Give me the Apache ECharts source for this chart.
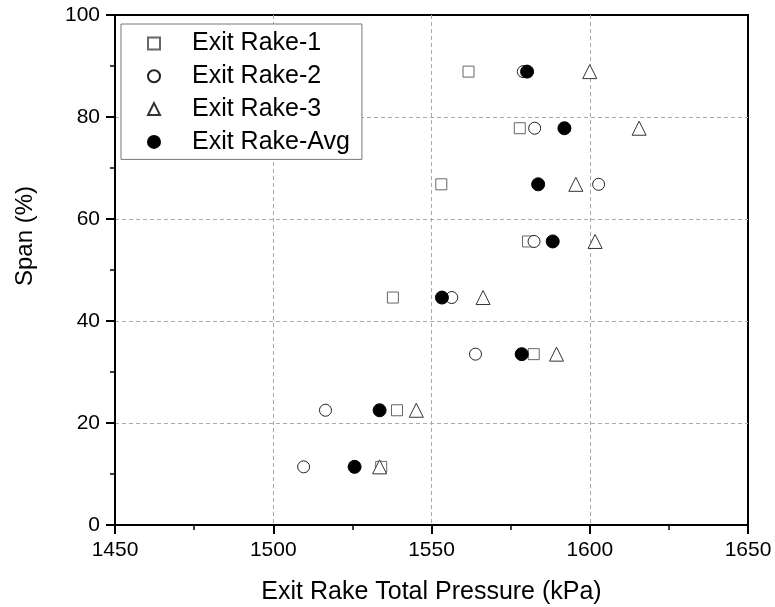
<!DOCTYPE html>
<html>
<head>
<meta charset="utf-8">
<script src="https://cdn.jsdelivr.net/npm/echarts@6/dist/echarts.min.js"></script>
<style>
  html, body { margin: 0; padding: 0; background: #fff; }
  #graph { width: 775px; height: 607px; }
</style>
</head>
<body>
<div id="graph"></div>
<script>
"use strict"

// span positions (%) shared by every rake
const spans = [11.4, 22.5, 33.5, 44.6, 55.6, 66.8, 77.8, 88.9];
// exit rake total pressure (kPa)
const rake1 = [1534.1, 1539.1, 1582.3, 1537.8, 1580.5, 1553.1, 1577.9, 1561.7];
const rake2 = [1509.6, 1516.5, 1563.9, 1556.4, 1582.4, 1602.8, 1582.6, 1579.0];
const rake3 = [1533.6, 1545.2, 1589.5, 1566.3, 1601.7, 1595.6, 1615.6, 1600.0];
const rakeAvg = [1525.7, 1533.6, 1578.5, 1553.3, 1588.3, 1583.7, 1592.0, 1580.2];
const seriesNames = ["Exit Rake-1", "Exit Rake-2", "Exit Rake-3", "Exit Rake-Avg"];
const xTicks = [1450, 1500, 1550, 1600, 1650];
const yTicks = [0, 20, 40, 60, 80, 100];

const FONT = "'Liberation Sans', Arial, sans-serif";

const pairs = xs => xs.map((x, i) => [x, spans[i]]);

const dashed = { show: true, showMinLine: false, showMaxLine: false, lineStyle: { color: "#aaa", width: 1, type: [4, 3] } };
const axisCommon = {
    axisLine: { show: true, onZero: false, lineStyle: { color: "#000", width: 2 } },
    axisTick: { show: true, inside: false, length: 9, lineStyle: { color: "#000", width: 2 } },
    minorTick: { show: true, splitNumber: 2, length: 5, lineStyle: { color: "#000", width: 1.5 } },
    splitLine: dashed
};
const tickLabel = { margin: 15, fontFamily: FONT, fontSize: 21, color: "#000", formatter: v => String(v) };

function makeSeries(name, data, symbol, size, fill, stroke)
{
    return {
        name: name,
        type: "scatter",
        data: pairs(data),
        symbol: symbol,
        symbolSize: size,
        itemStyle: { color: fill, borderColor: stroke, borderWidth: 1, opacity: 1 },
        emphasis: { disabled: true }
    };
}

const myChart = echarts.init(document.getElementById("graph"), null, { renderer: "canvas" });

const option = {
    backgroundColor: "#fff",
    animation: false,
    grid: {
        left: 115, right: 27, top: 15, bottom: 82,
        outerBoundsMode: "none",
        containLabel: false,
        show: true, borderColor: "#000", borderWidth: 2, backgroundColor: "transparent"
    },
    legend: {
        orient: "vertical",
        left: 121, top: 24,
        padding: [7, 12, 5, 26],
        itemGap: 7.8,
        itemWidth: 12, itemHeight: 12,
        borderColor: "#777", borderWidth: 1, backgroundColor: "#fff",
        textStyle: { fontFamily: FONT, fontSize: 25, color: "#000", lineHeight: 25, padding: [0, 0, 0, 27] },
        data: seriesNames
    },
    xAxis: Object.assign({}, axisCommon, {
        type: "value",
        min: xTicks[0], max: xTicks[xTicks.length - 1], interval: 50,
        name: "Exit Rake Total Pressure (kPa)",
        nameLocation: "middle", nameGap: 55,
        nameTextStyle: { fontFamily: FONT, fontSize: 25, color: "#000" },
        axisLabel: tickLabel
    }),
    yAxis: Object.assign({}, axisCommon, {
        type: "value",
        min: yTicks[0], max: yTicks[yTicks.length - 1], interval: 20,
        name: "Span (%)",
        nameLocation: "middle", nameGap: 78,
        nameTextStyle: { fontFamily: FONT, fontSize: 24, color: "#000", padding: [0, 0, 0, 68] },
        axisLabel: tickLabel
    }),
    series: [
        makeSeries(seriesNames[0], rake1, "rect", 11, "#fff", "#666"),
        makeSeries(seriesNames[1], rake2, "circle", 12, "#fff", "#222"),
        makeSeries(seriesNames[2], rake3, "triangle", 14, "#fff", "#333"),
        makeSeries(seriesNames[3], rakeAvg, "circle", 13, "#000", "#000")
    ]
};
myChart.setOption(option);
</script>
</body>
</html>
